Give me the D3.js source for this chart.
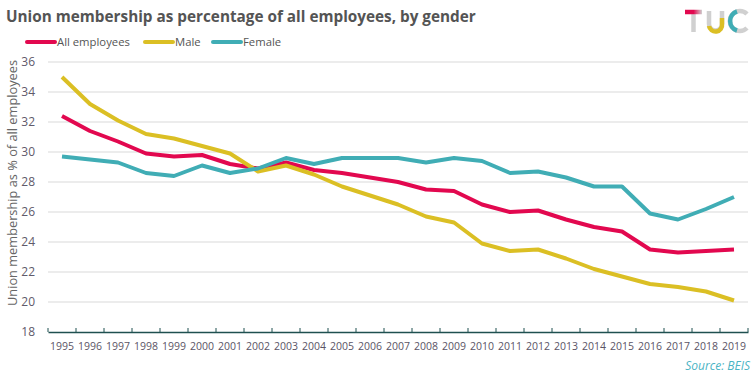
<!DOCTYPE html>
<html>
<head>
<meta charset="utf-8">
<script src="https://cdn.jsdelivr.net/npm/d3@7"></script>
<style>
  body { margin: 0; background: #fff; }
  svg { display: block; font-family: "Open Sans", sans-serif; }
</style>
</head>
<body>
<script>
const width = 756;
const height = 378;

const years = d3.range(1995, 2020).map(String);
const allEmployees = [32.4, 31.4, 30.7, 29.9, 29.7, 29.8, 29.2, 28.9, 29.3, 28.8, 28.6, 28.3, 28.0, 27.5, 27.4, 26.5, 26.0, 26.1, 25.5, 25.0, 24.7, 23.5, 23.3, 23.4, 23.5];
const male = [35.0, 33.2, 32.1, 31.2, 30.9, 30.4, 29.9, 28.7, 29.1, 28.5, 27.7, 27.1, 26.5, 25.7, 25.3, 23.9, 23.4, 23.5, 22.9, 22.2, 21.7, 21.2, 21.0, 20.7, 20.1];
const female = [29.7, 29.5, 29.3, 28.6, 28.4, 29.1, 28.6, 28.9, 29.6, 29.2, 29.6, 29.6, 29.6, 29.3, 29.6, 29.4, 28.6, 28.7, 28.3, 27.7, 27.7, 25.9, 25.5, 26.2, 27.0];
const yTicks = [18, 20, 22, 24, 26, 28, 30, 32, 34, 36];

const series = [
  {name: 'All employees', values: allEmployees, color: '#e2084f'},
  {name: 'Male', values: male, color: '#dbbf24'},
  {name: 'Female', values: female, color: '#40adb5'}
];

const svg = d3.select('body').append('svg')
    .attr('width', width)
    .attr('height', height);

const x = d3.scaleBand().domain(years).range([48, 748]);
const y = d3.scaleLinear().domain([18, 36]).range([332, 62]);

// gridlines
svg.append('g').selectAll('line')
    .data(yTicks.filter(d => d > 18))
    .enter().append('line')
    .attr('x1', 48).attr('x2', 748)
    .attr('y1', d => y(d)).attr('y2', d => y(d))
    .attr('stroke', '#d9d9d9')
    .attr('stroke-width', 1);

// y axis labels
const yAxis = svg.append('g')
    .attr('transform', 'translate(48,0)')
    .call(d3.axisLeft(y).tickValues(yTicks).tickSize(0).tickPadding(13));
yAxis.select('.domain').remove();
yAxis.selectAll('text').attr('font-size', 12).attr('fill', '#5f5a6b')
    .attr('font-family', '"Open Sans", sans-serif');

// x axis
const xAxis = svg.append('g')
    .attr('transform', 'translate(0,332)')
    .call(d3.axisBottom(x).tickSize(0).tickPadding(11));
xAxis.select('.domain').attr('stroke', '#1f5050').attr('stroke-width', 1.5);
xAxis.selectAll('text').attr('font-size', 10.5).attr('fill', '#5a5466')
    .attr('font-family', '"Open Sans", sans-serif');
xAxis.selectAll('.boundary')
    .data(years.map(d => x(d)).concat([x.range()[1]]))
    .enter().append('line')
    .attr('x1', d => d).attr('x2', d => d)
    .attr('y1', 0).attr('y2', -4)
    .attr('stroke', '#1f5050');

// lines
const line = d3.line()
    .x((d, i) => x(years[i]) + x.bandwidth() / 2)
    .y(d => y(d));

svg.append('g').selectAll('path')
    .data(series)
    .enter().append('path')
    .attr('d', d => line(d.values))
    .attr('fill', 'none')
    .attr('stroke', d => d.color)
    .attr('stroke-width', 4)
    .attr('stroke-linejoin', 'round');

// title
svg.append('text')
    .attr('x', 6).attr('y', 22)
    .attr('font-size', 15.3).attr('font-weight', 'bold')
    .attr('fill', '#545454')
    .text('Union membership as percentage of all employees, by gender');

// legend
const legendX = [27, 145, 213];
const legend = svg.append('g').selectAll('g')
    .data(series)
    .enter().append('g')
    .attr('transform', (d, i) => `translate(${legendX[i]},42)`);
legend.append('line')
    .attr('x1', 0).attr('x2', 28)
    .attr('stroke', d => d.color)
    .attr('stroke-width', 4)
    .attr('stroke-linecap', 'round');
legend.append('text')
    .attr('x', 30).attr('y', 4)
    .attr('font-size', 11.3).attr('fill', '#555')
    .text(d => d.name);

// y axis title
svg.append('text')
    .attr('transform', 'translate(17,183) rotate(-90)')
    .attr('text-anchor', 'middle')
    .attr('font-size', 12.8).attr('fill', '#666')
    .text('Union membership as % of all employees');

// source
svg.append('text')
    .attr('x', 750).attr('y', 370)
    .attr('text-anchor', 'end')
    .attr('font-size', 12).attr('font-style', 'italic')
    .attr('fill', '#4bb4c4')
    .text('Source:  BEIS');

// TUC logo
const defs = svg.append('defs');
const gT = defs.append('linearGradient').attr('id', 'gT')
    .attr('gradientUnits', 'userSpaceOnUse')
    .attr('x1', 685).attr('x2', 702).attr('y1', 0).attr('y2', 0);
gT.append('stop').attr('offset', '0%').attr('stop-color', '#e2084f');
gT.append('stop').attr('offset', '50%').attr('stop-color', '#e2084f');
gT.append('stop').attr('offset', '100%').attr('stop-color', '#d0d0d0');
const logo = svg.append('g').attr('fill', 'none').attr('stroke-width', 4.5);
logo.append('path').attr('d', 'M693.5,12 V32').attr('stroke', '#d0d0d0');
logo.append('path').attr('d', 'M685,12 H702').attr('stroke', 'url(#gT)');
logo.append('path').attr('d', 'M709,11 V24 A6.5,6.5 0 0 0 722,24 V11').attr('stroke', '#d0d0d0');
logo.append('path').attr('d', 'M709,26 A6.5,6.5 0 0 0 722,24 V18').attr('stroke', '#dbbf24');
logo.append('path').attr('d', 'M747,14 A10,10 0 1 0 747,28').attr('stroke', '#d0d0d0');
logo.append('path').attr('d', 'M737,11.5 A10,10 0 0 0 737,30.5').attr('stroke', '#40adb5');
</script>
</body>
</html>
